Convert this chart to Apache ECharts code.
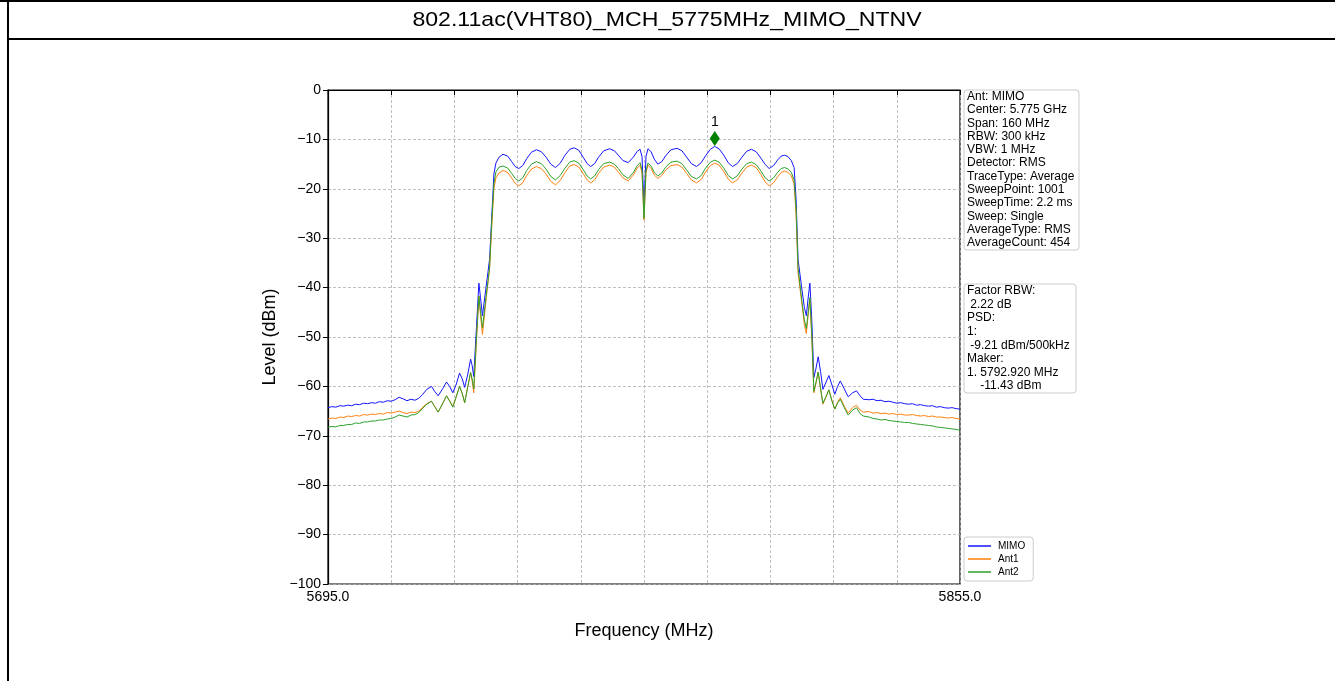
<!DOCTYPE html>
<html>
<head>
<meta charset="utf-8">
<title>802.11ac(VHT80)_MCH_5775MHz_MIMO_NTNV</title>
<script src="https://cdn.jsdelivr.net/npm/echarts@6/dist/echarts.min.js"></script>
<style>
  html, body { margin: 0; padding: 0; background: #fff; }
  #chart { width: 1335px; height: 681px; }
</style>
</head>
<body>
<div id="chart"></div>
<script>
var TITLE = "802.11ac(VHT80)_MCH_5775MHz_MIMO_NTNV";

// sweep frequencies (MHz)
var FREQ_MHZ = [
    // left noise floor
    5695, 5696, 5697, 5698, 5699, 5700, 5701, 5702, 5703, 5704, 5705, 5706, 5707,
    5708, 5709, 5710, 5711, 5712, 5713, 5714, 5715, 5716, 5717, 5718, 5719, 5720,
    // left skirt
    5721.2, 5722.0, 5722.9, 5724.0, 5725.0, 5725.8, 5726.6, 5727.5, 5728.3, 5729.0,
    5729.6, 5730.4, 5731.1, 5731.5, 5731.9, 5732.6, 5733.2, 5733.6, 5734.1, 5735.0,
    5735.9, 5736.5, 5737.0, 5737.5, 5738.3,
    // in band
    5739.3, 5740.5, 5741.5, 5742.4, 5743.3, 5744.3, 5745.3, 5746.5, 5747.8, 5749.0,
    5750.2, 5751.4, 5752.6, 5753.8, 5755.0, 5756.2, 5757.3, 5758.5, 5759.6, 5760.6,
    5761.5, 5762.5, 5763.5, 5764.8, 5766.3, 5767.5, 5768.5, 5769.7, 5771.0, 5772.3,
    5773.3, 5774.0, 5774.5, 5775.0, 5775.5, 5776.0, 5776.8, 5777.6, 5778.5, 5779.5,
    5780.5, 5781.8, 5783.4, 5784.6, 5785.8, 5787.0, 5788.3, 5789.5, 5790.6, 5791.8,
    5792.9, 5794.0, 5795.2, 5796.3, 5797.4, 5798.6, 5799.8, 5801.0, 5802.2, 5803.4,
    5804.6, 5805.7, 5806.7, 5807.8, 5808.8, 5809.7, 5810.6, 5811.5, 5812.3, 5813.0,
    5813.5,
    // right skirt
    5814.0, 5815.0, 5815.6, 5816.1, 5816.5, 5817.0, 5817.5, 5818.0, 5818.5, 5819.1,
    5819.7, 5820.3, 5821.0, 5821.8, 5822.5, 5823.3, 5824.0, 5824.7, 5825.7, 5826.7,
    5827.8, 5828.8, 5829.7, 5830.5,
    // right noise floor
    5831, 5832, 5833, 5834, 5835, 5836, 5837, 5838, 5839, 5840, 5841, 5842, 5843,
    5844, 5845, 5846, 5847, 5848, 5849, 5850, 5851, 5852, 5853, 5854, 5855
];

var MIMO_DBM = [
    -64.3, -64.1, -64.2, -63.9, -64.0, -63.8, -63.9, -63.6, -63.7, -63.4, -63.5, -63.3, -63.4,
    -63.1, -63.2, -62.9, -63.0, -62.7, -62.2, -62.5, -62.9, -62.6, -62.8, -62.4, -61.6, -60.6,
    -60.0, -61.0, -61.9, -60.5, -59.1, -60.0, -61.3, -59.5, -57.3, -58.5,
    -60.2, -57.5, -54.5, -55.8, -58.0, -47.8, -39.1, -42.0, -45.7, -40.0,
    -34.3, -25.0, -17.0, -14.8, -13.6,
    -13.0, -13.4, -14.5, -15.5, -15.9, -15.3, -13.9, -12.6, -12.1, -12.5,
    -13.6, -15.0, -15.7, -14.8, -13.2, -12.0, -11.7, -12.2, -13.6, -14.9,
    -15.5, -14.9, -13.6, -12.3, -11.9, -12.3, -13.2, -14.3, -14.7, -13.6,
    -12.4, -12.0, -13.5, -23.5, -13.5, -11.9, -12.5, -14.0, -15.0, -14.5,
    -13.3, -12.1, -11.8, -12.3, -13.6, -14.9, -15.5, -14.7, -13.3, -12.0,
    -11.43, -11.9, -13.2, -14.7, -15.5, -14.9, -13.6, -12.4, -12.0, -12.5,
    -13.8, -15.1, -15.9, -15.3, -14.2, -13.4, -13.2, -13.5, -14.3, -15.7,
    -22.0,
    -34.3, -40.5, -44.0, -45.7, -42.5, -39.1, -47.0, -58.2, -56.5, -54.0,
    -57.0, -60.6, -59.3, -57.8, -59.5, -61.6, -60.0, -58.9, -60.5, -62.1,
    -61.3, -60.9, -61.9, -62.6,
    -62.5, -62.7, -62.6, -62.9, -62.8, -63.1, -63.0, -63.2, -63.4, -63.3, -63.5, -63.6, -63.5,
    -63.8, -63.7, -63.9, -64.0, -63.9, -64.2, -64.1, -64.3, -64.4, -64.3, -64.5, -64.6
];

var ANT1_DBM = [
    -66.6, -66.4, -66.5, -66.2, -66.3, -66.0, -66.1, -65.9, -66.0, -65.7, -65.8, -65.6, -65.7,
    -65.5, -65.6, -65.3, -65.4, -65.2, -65.0, -65.3, -65.5, -65.2, -65.3, -65.0, -64.2, -63.5,
    -63.0, -64.0, -65.2, -63.5, -61.9, -62.9, -64.1, -62.0, -60.0, -61.5,
    -63.3, -60.0, -57.2, -59.0, -61.3, -50.5, -41.7, -45.5, -49.5, -42.5,
    -36.2, -27.0, -20.0, -17.8, -16.8,
    -16.3, -16.7, -17.8, -18.9, -19.4, -18.8, -17.3, -16.0, -15.5, -15.9,
    -17.0, -18.5, -19.2, -18.3, -16.7, -15.4, -15.1, -15.6, -16.9, -18.2,
    -18.8, -18.2, -16.9, -15.6, -15.2, -15.6, -16.6, -17.8, -18.4, -17.2,
    -15.8, -15.2, -16.8, -26.3, -16.8, -15.2, -15.9, -17.2, -17.9, -17.3,
    -16.2, -15.3, -15.1, -15.6, -16.9, -18.2, -18.8, -18.1, -16.6, -15.3,
    -14.8, -15.2, -16.5, -18.0, -18.8, -18.2, -16.8, -15.6, -15.2, -15.7,
    -17.1, -18.6, -19.4, -18.8, -17.6, -16.7, -16.4, -16.7, -17.4, -19.0,
    -25.0,
    -37.0, -43.5, -47.5, -49.3, -46.0, -42.4, -50.5, -61.3, -59.5, -57.1,
    -60.5, -63.6, -62.3, -60.7, -62.6, -64.6, -63.2, -62.3, -64.0, -65.4,
    -64.3, -63.8, -64.8, -65.2,
    -65.3, -65.1, -65.4, -65.3, -65.5, -65.4, -65.6, -65.5, -65.7, -65.6, -65.8, -65.8, -65.7,
    -65.9, -66.0, -65.9, -66.1, -66.0, -66.2, -66.2, -66.3, -66.4, -66.3, -66.5, -66.6
];

var ANT2_DBM = [
    -68.3, -68.1, -68.2, -67.9, -67.9, -67.7, -67.7, -67.4, -67.5, -67.2, -67.2, -67.0, -67.0,
    -66.8, -66.8, -66.6, -66.5, -66.2, -65.8, -66.0, -66.2, -65.8, -65.7, -65.3, -64.4, -63.6,
    -63.0, -64.1, -65.2, -63.5, -61.9, -63.0, -64.2, -62.0, -60.0, -61.5,
    -63.3, -60.0, -57.2, -58.5, -60.5, -50.0, -41.7, -44.8, -48.1, -42.0,
    -36.0, -26.0, -19.0, -16.6, -15.6,
    -15.4, -15.8, -16.9, -17.9, -18.4, -17.8, -16.3, -15.0, -14.5, -14.9,
    -16.0, -17.5, -18.2, -17.3, -15.8, -14.6, -14.3, -14.8, -16.1, -17.4,
    -18.0, -17.4, -16.1, -14.9, -14.6, -15.0, -15.9, -17.2, -17.9, -16.7,
    -15.3, -14.7, -16.2, -26.0, -16.4, -14.8, -15.4, -16.7, -17.4, -16.8,
    -15.6, -14.6, -14.4, -14.9, -16.2, -17.5, -18.0, -17.3, -15.8, -14.6,
    -14.2, -14.6, -15.8, -17.3, -18.0, -17.4, -16.0, -14.9, -14.6, -15.1,
    -16.4, -17.8, -18.4, -17.8, -16.7, -15.9, -15.7, -16.0, -16.7, -18.2,
    -24.0,
    -36.0, -43.0, -46.5, -48.3, -45.5, -42.0, -50.0, -61.0, -59.3, -57.1,
    -60.4, -63.4, -62.2, -60.7, -62.8, -64.6, -63.4, -62.6, -64.3, -65.8,
    -64.8, -64.3, -65.5, -66.0,
    -66.3, -66.2, -66.5, -66.6, -66.8, -66.7, -66.9, -67.0, -67.1, -67.2, -67.3, -67.3, -67.5,
    -67.6, -67.7, -67.8, -67.9, -68.0, -68.2, -68.3, -68.4, -68.5, -68.6, -68.7, -68.9
];

var SERIES_NAMES = ["MIMO", "Ant1", "Ant2"];
var SERIES_COLORS = ["#1515ff", "#ff7f0e", "#2ca02c"];

var MARKER_FREQ = 5792.92;
var MARKER_LEVEL = -11.43;

var X_MIN = 5695, X_MAX = 5855, X_STEP = 16;
var Y_MIN = -100, Y_MAX = 0, Y_STEP = 10;

var INFO_LINES = [
    "Ant: MIMO", "Center: 5.775 GHz", "Span: 160 MHz", "RBW: 300 kHz", "VBW: 1 MHz",
    "Detector: RMS", "TraceType: Average", "SweepPoint: 1001", "SweepTime: 2.2 ms",
    "Sweep: Single", "AverageType: RMS", "AverageCount: 454"
];
var PSD_LINES = [
    "Factor RBW:", " 2.22 dB", "PSD:", "1:", " -9.21 dBm/500kHz", "Maker:",
    "1. 5792.920 MHz", "    -11.43 dBm"
];

var FONT = '"Liberation Sans", Arial, sans-serif';

if (MIMO_DBM.length != FREQ_MHZ.length || ANT1_DBM.length != FREQ_MHZ.length || ANT2_DBM.length != FREQ_MHZ.length) {
    console.error("length mismatch", FREQ_MHZ.length, MIMO_DBM.length, ANT1_DBM.length, ANT2_DBM.length);
}

var pairs = function(vals) {
    return FREQ_MHZ.map(function(f, i) { return [f, vals[i]]; });
};

var minus = function(v) {
    return v < 0 ? "\u2212" + Math.abs(v) : String(v);
};

var chart = echarts.init(document.getElementById("chart"));

var lineSeries = function(idx, vals) {
    return {
        name: SERIES_NAMES[idx],
        type: "line",
        data: pairs(vals),
        showSymbol: false,
        symbol: "none",
        lineStyle: { color: SERIES_COLORS[idx], width: 1 },
        itemStyle: { color: SERIES_COLORS[idx] },
        animation: false,
        z: 3 + idx
    };
};

var mimo = lineSeries(0, MIMO_DBM);
mimo.markPoint = {
    animation: false,
    data: [{
        coord: [MARKER_FREQ, MARKER_LEVEL],
        symbol: "diamond",
        symbolSize: [10, 15],
        symbolOffset: [0, -8],
        itemStyle: { color: "#008000" },
        label: {
            show: true, position: "top", formatter: "1", distance: 2,
            color: "#000", fontSize: 14, fontFamily: FONT
        }
    }]
};

var option = {
    backgroundColor: "#fff",
    animation: false,
    grid: {
        left: 328, top: 90, width: 632, height: 494,
        show: true, borderColor: "#000", borderWidth: 1.2, backgroundColor: "transparent"
    },
    xAxis: {
        type: "value",
        min: X_MIN, max: X_MAX, interval: X_STEP,
        name: "Frequency (MHz)",
        nameLocation: "middle",
        nameGap: 38,
        nameTextStyle: { fontSize: 18, color: "#000", fontFamily: FONT },
        axisLine: { lineStyle: { color: "#000", width: 1.2 } },
        axisTick: { show: true, length: 5, lineStyle: { color: "#000" } },
        axisLabel: {
            color: "#000", fontSize: 14, fontFamily: FONT, margin: 6,
            showMinLabel: true, showMaxLabel: true,
            formatter: function(v) {
                return (v === X_MIN || v === X_MAX) ? v.toFixed(1) : "";
            }
        },
        splitLine: { show: true, lineStyle: { color: "#b0b0b0", type: [3, 2], width: 0.8 } }
    },
    yAxis: {
        type: "value",
        min: Y_MIN, max: Y_MAX, interval: Y_STEP,
        name: "Level (dBm)",
        nameLocation: "middle",
        nameGap: 49,
        nameTextStyle: { fontSize: 18, color: "#000", fontFamily: FONT },
        axisLine: { show: true, lineStyle: { color: "#000", width: 1.2 } },
        axisTick: { show: true, length: 5, lineStyle: { color: "#000" } },
        axisLabel: { color: "#000", fontSize: 14, fontFamily: FONT, margin: 7, formatter: minus },
        splitLine: { show: true, lineStyle: { color: "#b0b0b0", type: [3, 2], width: 0.8 } }
    },
    legend: {
        data: SERIES_NAMES,
        orient: "vertical",
        left: 964, top: 537,
        icon: "rect",
        itemWidth: 23, itemHeight: 1.5,
        itemGap: 3,
        padding: [4, 8, 4, 4],
        borderColor: "#cccccc", borderWidth: 1, borderRadius: 3,
        backgroundColor: "#fff",
        textStyle: { fontSize: 10, color: "#000", fontFamily: FONT, padding: [0, 0, 0, 2] }
    },
    series: [mimo, lineSeries(1, ANT1_DBM), lineSeries(2, ANT2_DBM)],
    graphic: [
        // frame lines
        { type: "line", shape: { x1: 0, y1: 1, x2: 1335, y2: 1 }, style: { stroke: "#000", lineWidth: 2 } },
        { type: "line", shape: { x1: 8, y1: 0, x2: 8, y2: 681 }, style: { stroke: "#000", lineWidth: 2 } },
        { type: "line", shape: { x1: 8, y1: 39, x2: 1335, y2: 39 }, style: { stroke: "#000", lineWidth: 2 } },
        {
            type: "text", x: 667, y: 20, scaleX: 1.1,
            style: { text: TITLE, font: "21px " + FONT, fill: "#000", align: "center", verticalAlign: "middle" }
        },
        // info boxes
        {
            type: "rect", shape: { x: 964, y: 90, width: 115, height: 160, r: 3 },
            style: { fill: "#fff", stroke: "#cccccc", lineWidth: 1 }
        },
        {
            type: "text", x: 967, y: 90,
            style: { text: INFO_LINES.join("\n"), font: "12px " + FONT, lineHeight: 13.3, fill: "#000" }
        },
        {
            type: "rect", shape: { x: 964, y: 284, width: 112, height: 109, r: 3 },
            style: { fill: "#fff", stroke: "#cccccc", lineWidth: 1 }
        },
        {
            type: "text", x: 967, y: 284,
            style: { text: PSD_LINES.join("\n"), font: "12px " + FONT, lineHeight: 13.6, fill: "#000" }
        }
    ]
};

chart.setOption(option);
</script>
</body>
</html>
